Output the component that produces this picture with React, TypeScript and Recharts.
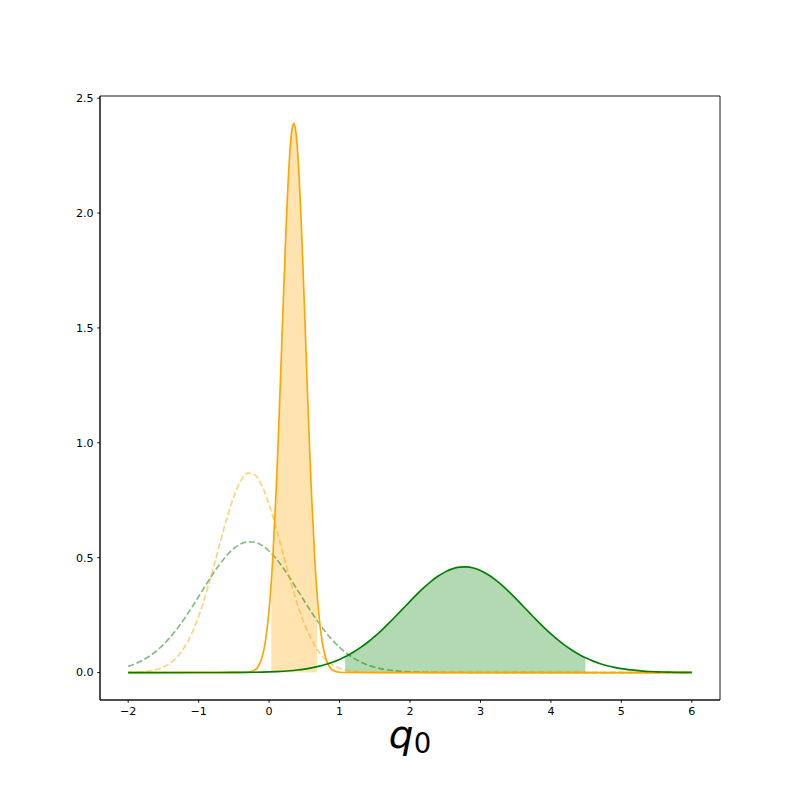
import React from 'react';
import {
  ComposedChart,
  Line,
  Area,
  XAxis,
  YAxis,
  ReferenceArea,
} from 'recharts';

const ORANGE = '#FFA500';
const GREEN = '#008000';

// x ticks and y ticks
const xTicks = [-2, -1, 0, 1, 2, 3, 4, 5, 6];
const yTicks = [0, 0.5, 1.0, 1.5, 2.0, 2.5];

// green dashed prior (wide bump around -0.27)
const greenDashedX = [
  -2.0, -1.9, -1.8, -1.7, -1.6, -1.5, -1.4, -1.3, -1.2, -1.1, -1.0, -0.9, -0.8, -0.7, -0.6, -0.5, -0.4, -0.3, -0.2, -0.1,
  0.0, 0.1, 0.2, 0.3, 0.4, 0.5, 0.6, 0.7, 0.8, 0.9, 1.0, 1.1, 1.2, 1.3, 1.4, 1.5, 1.6, 1.7, 1.8, 1.9, 2.0, 2.1, 2.2, 2.3,
  2.4, 2.5, 2.6, 3.0, 4.0, 5.0, 6.0,
];
const greenDashedY = [
  0.0269, 0.0379, 0.0523, 0.0707, 0.0938, 0.1218, 0.1549, 0.1931, 0.2358, 0.2822, 0.3309, 0.3802, 0.428, 0.4719, 0.51,
  0.54, 0.5603, 0.5695, 0.5672, 0.5534, 0.5291, 0.4957, 0.455, 0.4092, 0.3605, 0.3113, 0.2633, 0.2183, 0.1772, 0.141,
  0.11, 0.084, 0.0629, 0.0461, 0.0331, 0.0233, 0.0161, 0.0109, 0.0072, 0.0047, 0.003, 0.0019, 0.0011, 0.0007, 0.0004,
  0.0002, 0.0001, 0, 0, 0, 0,
];

// orange dashed prior (narrower bump around -0.27)
const orangeDashedX = [
  -2.0, -1.9, -1.8, -1.7, -1.6, -1.5, -1.4, -1.3, -1.2, -1.1, -1.0, -0.9, -0.8, -0.7, -0.6, -0.5, -0.4, -0.3, -0.2, -0.1,
  0.0, 0.1, 0.2, 0.3, 0.4, 0.5, 0.6, 0.7, 0.8, 0.9, 1.0, 1.1, 1.2, 1.3, 1.4, 1.5, 1.6, 1.7, 2.0, 3.0, 4.0, 5.0, 6.0,
];
const orangeDashedY = [
  0.0007, 0.0016, 0.0033, 0.0067, 0.013, 0.0238, 0.0418, 0.0698, 0.1112, 0.169, 0.2451, 0.3385, 0.446, 0.5605, 0.6716,
  0.7672, 0.8357, 0.8681, 0.8599, 0.8122, 0.7316, 0.6283, 0.5145, 0.4018, 0.2992, 0.2125, 0.1438, 0.0929, 0.0572, 0.0336,
  0.0188, 0.01, 0.0051, 0.0025, 0.0011, 0.0005, 0.0002, 0.0001, 0, 0, 0, 0, 0,
];

// green solid posterior (around 2.77)
const greenX = [
  -2.0, -1.0, -0.5, 0.0, 0.1, 0.2, 0.3, 0.4, 0.5, 0.6, 0.7, 0.8, 0.9, 1.0, 1.1, 1.2, 1.3, 1.4, 1.5, 1.6, 1.7, 1.8, 1.9,
  2.0, 2.1, 2.2, 2.3, 2.4, 2.5, 2.6, 2.7, 2.8, 2.9, 3.0, 3.1, 3.2, 3.3, 3.4, 3.5, 3.6, 3.7, 3.8, 3.9, 4.0, 4.1, 4.2, 4.3,
  4.4, 4.5, 4.6, 4.7, 4.8, 4.9, 5.0, 5.1, 5.2, 5.3, 5.4, 5.5, 5.6, 5.7, 5.8, 5.9, 6.0,
];
const greenY = [
  0, 0.00004, 0.0004, 0.0028, 0.004, 0.0057, 0.0079, 0.011, 0.0149, 0.0201, 0.0266, 0.0348, 0.045, 0.0572, 0.072, 0.0893,
  0.1093, 0.132, 0.1573, 0.1851, 0.2148, 0.246, 0.278, 0.3101, 0.3413, 0.3706, 0.3972, 0.42, 0.4382, 0.4513, 0.4585,
  0.4597, 0.4549, 0.4441, 0.4278, 0.4068, 0.3816, 0.3533, 0.3227, 0.2909, 0.2588, 0.2271, 0.1968, 0.1682, 0.1418, 0.118,
  0.097, 0.0786, 0.0628, 0.0496, 0.0386, 0.0297, 0.0225, 0.0168, 0.0124, 0.0091, 0.0065, 0.0046, 0.0032, 0.0022, 0.0015,
  0.001, 0.0007, 0.0004,
];

// shaded interval under the green curve
const greenFillX = [
  1.08, 1.1, 1.2, 1.3, 1.4, 1.5, 1.6, 1.7, 1.8, 1.9, 2.0, 2.1, 2.2, 2.3, 2.4, 2.5, 2.6, 2.7, 2.8, 2.9, 3.0, 3.1, 3.2, 3.3,
  3.4, 3.5, 3.6, 3.7, 3.8, 3.9, 4.0, 4.1, 4.2, 4.3, 4.4, 4.49,
];
const greenFillY = [
  0.0688, 0.072, 0.0893, 0.1093, 0.132, 0.1573, 0.1851, 0.2148, 0.246, 0.278, 0.3101, 0.3413, 0.3706, 0.3972, 0.42,
  0.4382, 0.4513, 0.4585, 0.4597, 0.4549, 0.4441, 0.4278, 0.4068, 0.3816, 0.3533, 0.3227, 0.2909, 0.2588, 0.2271, 0.1968,
  0.1682, 0.1418, 0.118, 0.097, 0.0786, 0.0643,
];

// orange solid posterior (sharp peak near 0.35)
const orangeX = [
  -2.0, -1.0, -0.5, -0.3, -0.2, -0.15, -0.1, -0.05, 0.0, 0.05, 0.1, 0.125, 0.15, 0.175, 0.2, 0.225, 0.25, 0.275, 0.3, 0.325,
  0.35, 0.375, 0.4, 0.425, 0.45, 0.475, 0.5, 0.525, 0.55, 0.575, 0.6, 0.65, 0.7, 0.75, 0.8, 0.85, 0.9, 1.0, 1.1, 1.5, 2.0,
  3.0, 4.0, 5.0, 6.0,
];
const orangeY = [
  0, 0, 0, 0.0013, 0.0112, 0.0285, 0.0662, 0.1404, 0.2729, 0.4854, 0.7899, 0.9749, 1.1766, 1.3893, 1.6044, 1.8121, 2.0021,
  2.1634, 2.2865, 2.3637, 2.39, 2.3637, 2.2865, 2.1634, 2.0021, 1.8121, 1.6044, 1.3893, 1.1766, 0.9749, 0.7899, 0.4854,
  0.2729, 0.1404, 0.0662, 0.0285, 0.0112, 0.0013, 0.0001, 0, 0, 0, 0, 0, 0,
];

// shaded interval under the orange curve
const orangeFillX = [
  0.03, 0.05, 0.1, 0.125, 0.15, 0.175, 0.2, 0.225, 0.25, 0.275, 0.3, 0.325, 0.35, 0.375, 0.4, 0.425, 0.45, 0.475, 0.5,
  0.525, 0.55, 0.575, 0.6, 0.65, 0.68,
];
const orangeFillY = [
  0.3896, 0.4854, 0.7899, 0.9749, 1.1766, 1.3893, 1.6044, 1.8121, 2.0021, 2.1634, 2.2865, 2.3637, 2.39, 2.3637, 2.2865,
  2.1634, 2.0021, 1.8121, 1.6044, 1.3893, 1.1766, 0.9749, 0.7899, 0.4854, 0.3472,
];

const toRows = (xs: number[], ys: number[]) => xs.map((x, i) => ({ x, y: ys[i] }));

const X_DOMAIN: [number, number] = [-2.4, 6.4];
const Y_DOMAIN: [number, number] = [-0.1195, 2.5095];

const FONT = 'DejaVu Sans, sans-serif';
const LW = 1.67;
const DASH = '6.2 2.7';

const fmtX = (v: number) => (v < 0 ? '\u2212' + Math.abs(v) : String(v));
const fmtY = (v: number) => v.toFixed(1);

const QLabel = (props: any) => {
  const vb = props.viewBox || { x: 100, width: 620, y: 700 };
  const cx = vb.x + vb.width / 2;
  return (
    <text x={cx} y={748} textAnchor="middle" fontFamily={FONT} fontSize={39} fill="#000">
      <tspan fontStyle="italic">q</tspan>
      <tspan fontSize={27.5} dy={5}>0</tspan>
    </text>
  );
};

export default function App() {
  const tickStyle = { fill: '#000', fontSize: 11.1, fontFamily: FONT };
  return (
    <div style={{ position: 'absolute', left: 0, top: 0, width: 800, height: 800, background: '#fff' }}>
      <ComposedChart width={800} height={800} margin={{ top: 96, right: 80, bottom: 40, left: 40 }}>
        <XAxis
          dataKey="x"
          type="number"
          domain={X_DOMAIN}
          allowDataOverflow
          ticks={xTicks}
          tickFormatter={fmtX}
          tick={tickStyle}
          tickSize={2.8}
          tickMargin={4}
          height={60}
          axisLine={{ stroke: '#000', strokeWidth: 0.9 }}
          tickLine={{ stroke: '#000', strokeWidth: 0.9 }}
          label={<QLabel />}
        />
        <YAxis
          type="number"
          domain={Y_DOMAIN}
          allowDataOverflow
          ticks={yTicks}
          tickFormatter={fmtY}
          tick={tickStyle}
          tickSize={2.8}
          tickMargin={3.5}
          width={60}
          axisLine={{ stroke: '#000', strokeWidth: 0.9 }}
          tickLine={{ stroke: '#000', strokeWidth: 0.9 }}
        />
        <Area
          data={toRows(greenFillX, greenFillY)}
          dataKey="y"
          type="monotone"
          baseValue={0}
          stroke="none"
          fill={GREEN}
          fillOpacity={0.3}
          isAnimationActive={false}
        />
        <Area
          data={toRows(orangeFillX, orangeFillY)}
          dataKey="y"
          type="monotone"
          baseValue={0}
          stroke="none"
          fill={ORANGE}
          fillOpacity={0.3}
          isAnimationActive={false}
        />
        <Line
          data={toRows(greenDashedX, greenDashedY)}
          dataKey="y"
          type="monotone"
          stroke={GREEN}
          strokeOpacity={0.5}
          strokeWidth={LW}
          strokeDasharray={DASH}
          dot={false}
          isAnimationActive={false}
        />
        <Line
          data={toRows(orangeDashedX, orangeDashedY)}
          dataKey="y"
          type="monotone"
          stroke={ORANGE}
          strokeOpacity={0.5}
          strokeWidth={LW}
          strokeDasharray={DASH}
          dot={false}
          isAnimationActive={false}
        />
        <Line
          data={toRows(orangeX, orangeY)}
          dataKey="y"
          type="monotone"
          stroke={ORANGE}
          strokeWidth={LW}
          dot={false}
          isAnimationActive={false}
        />
        <Line
          data={toRows(greenX, greenY)}
          dataKey="y"
          type="monotone"
          stroke={GREEN}
          strokeWidth={LW}
          dot={false}
          isAnimationActive={false}
        />
        <ReferenceArea
          x1={X_DOMAIN[0]}
          x2={X_DOMAIN[1]}
          y1={Y_DOMAIN[0]}
          y2={Y_DOMAIN[1]}
          fill="none"
          fillOpacity={0}
          stroke="#000"
          strokeWidth={0.9}
          ifOverflow="visible"
        />
      </ComposedChart>
    </div>
  );
}
